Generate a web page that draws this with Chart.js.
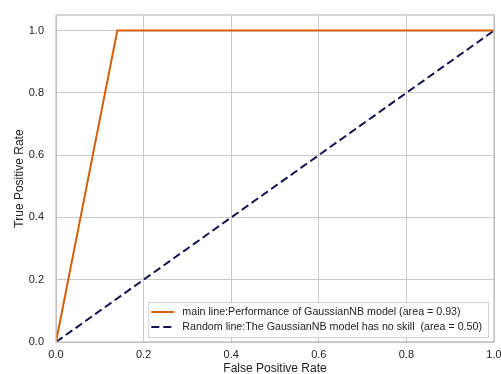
<!DOCTYPE html>
<html>
<head>
<meta charset="utf-8">
<script src="https://cdn.jsdelivr.net/npm/chart.js@4"></script>
<style>
  body { margin: 0; background: #fff; }
  canvas { display: block; }
</style>
</head>
<body>
<canvas id="canvas" width="501" height="374"></canvas>
<script>
// ROC curve points
const fpr = [0, 0.14, 1];
const tpr = [0, 1, 1];
const randFpr = [0, 1];
const randTpr = [0, 1];
const xTicks = [0, 0.2, 0.4, 0.6, 0.8, 1.0];
const yTicks = [0, 0.2, 0.4, 0.6, 0.8, 1.0];
const mainLabel = 'main line:Performance of GaussianNB model (area = 0.93)';
const randLabel = 'Random line:The GaussianNB model has no skill  (area = 0.50)';

const font = 'Liberation Sans, Arial, sans-serif';

// legend drawn inside the plot, lower right, plus full frame
const boxPlugin = {
  id: 'box',
  afterDraw(chart) {
    const ctx = chart.ctx;
    const a = chart.chartArea;
    ctx.save();
    ctx.strokeStyle = '#bdbdbd';
    ctx.lineWidth = 1.2;
    ctx.strokeRect(a.left, a.top, a.right - a.left, a.bottom - a.top);

    ctx.font = '10.7px ' + font;
    const ds = chart.data.datasets;
    let w = 0;
    ds.forEach(d => { w = Math.max(w, ctx.measureText(d.label).width); });
    const boxW = w + 40, boxH = 35;
    const x0 = a.right - 6 - boxW, y0 = a.bottom - 5 - boxH;
    ctx.fillStyle = 'rgba(255,255,255,0.85)';
    ctx.fillRect(x0, y0, boxW, boxH);
    ctx.strokeStyle = '#d0d0d0';
    ctx.lineWidth = 1;
    ctx.strokeRect(x0 + 0.5, y0 + 0.5, boxW, boxH);
    ds.forEach((d, i) => {
      const y = y0 + 10 + i * 15;
      ctx.strokeStyle = d.borderColor;
      ctx.lineWidth = d.borderWidth;
      ctx.setLineDash(d.borderDash || []);
      ctx.beginPath();
      ctx.moveTo(x0 + 3, y);
      ctx.lineTo(x0 + 26, y);
      ctx.stroke();
      ctx.setLineDash([]);
      ctx.fillStyle = '#222';
      ctx.textBaseline = 'middle';
      ctx.fillText(d.label, x0 + 34, y);
    });
    ctx.restore();
  }
};

const data = {
  datasets: [
    {
      label: mainLabel,
      data: fpr.map((v, i) => ({ x: v, y: tpr[i] })),
      borderColor: '#d35f0a',
      borderWidth: 2,
      showLine: true,
      pointRadius: 0,
      tension: 0
    },
    {
      label: randLabel,
      data: randFpr.map((v, i) => ({ x: v, y: randTpr[i] })),
      borderColor: '#14134f',
      borderWidth: 2,
      borderDash: [8, 4],
      showLine: true,
      pointRadius: 0,
      tension: 0
    }
  ]
};

const config = {
  type: 'scatter',
  data: data,
  options: {
    responsive: false,
    animation: false,
    layout: { autoPadding: false, padding: { left: 0, top: 15, right: 7, bottom: 0 } },
    plugins: { legend: { display: false }, tooltip: { enabled: false } },
    scales: {
      x: {
        min: 0, max: 1,
        afterBuildTicks: s => { s.ticks = xTicks.map(v => ({ value: v })); },
        afterFit: s => { s.height = 32; s.paddingLeft = 0; s.paddingRight = 0; },
        grid: { color: '#c8c8c8', lineWidth: 1, drawTicks: false },
        border: { display: false },
        ticks: { color: '#222', font: { family: font, size: 11 }, padding: 6, maxRotation: 0,
                 callback: v => Number(v).toFixed(1) },
        title: { display: true, text: 'False Positive Rate', color: '#222',
                 font: { family: font, size: 12 }, padding: { top: 0, bottom: -2 } }
      },
      y: {
        min: 0, max: 1.05,
        afterBuildTicks: s => { s.ticks = yTicks.map(v => ({ value: v })); },
        afterFit: s => { s.width = 56; s.paddingTop = 0; s.paddingBottom = 0; },
        grid: { color: '#c8c8c8', lineWidth: 1, drawTicks: false },
        border: { display: false },
        ticks: { color: '#222', font: { family: font, size: 11 }, padding: 12,
                 callback: v => Number(v).toFixed(1) },
        title: { display: true, text: 'True Positive Rate', color: '#222',
                 font: { family: font, size: 12 }, padding: { top: 12, bottom: 0 } }
      }
    }
  },
  plugins: [boxPlugin]
};

const canvas = document.getElementById('canvas');
const chart = new Chart(canvas, config);
</script>
</body>
</html>
